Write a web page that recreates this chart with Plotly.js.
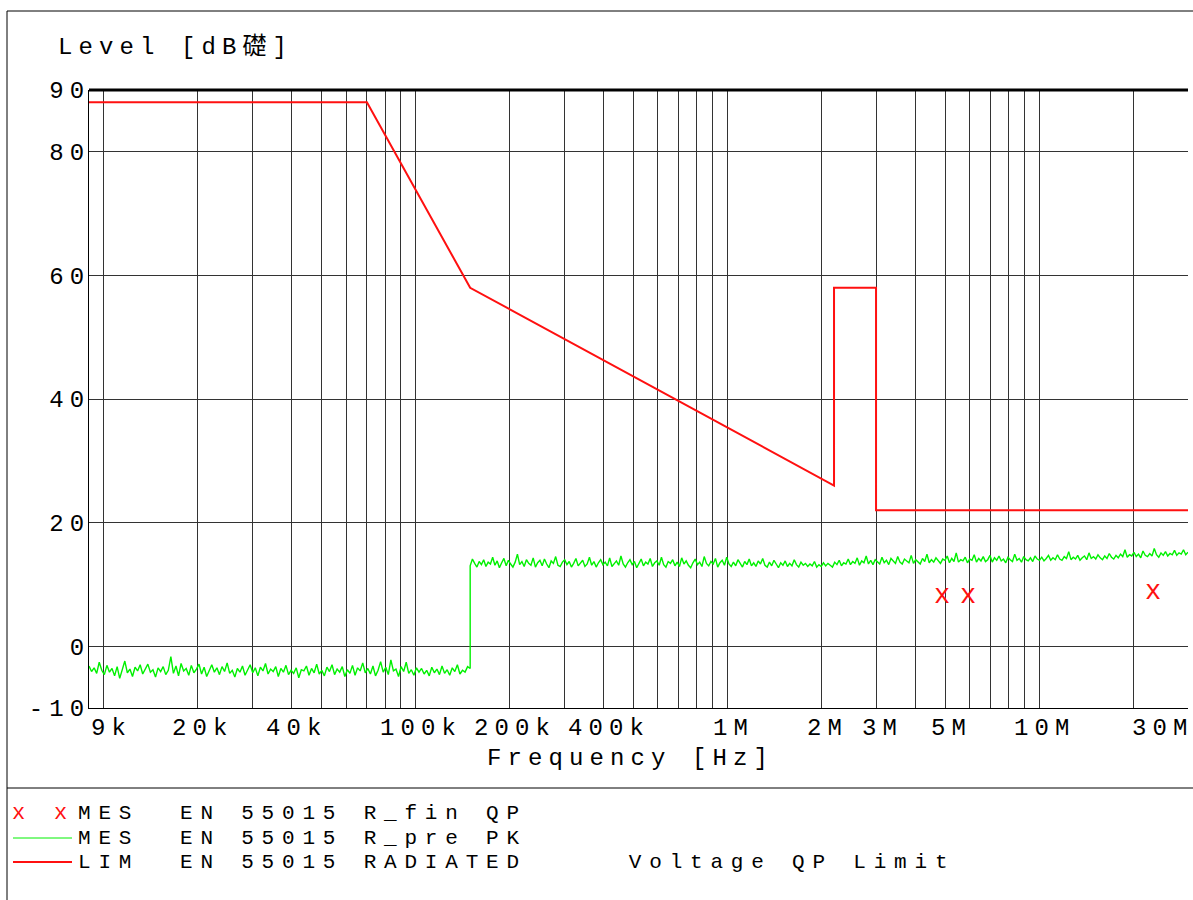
<!DOCTYPE html>
<html>
<head>
<meta charset="utf-8">
<script src="https://cdn.plot.ly/plotly-3.0.1.min.js"></script>
<style>
  html, body { margin: 0; padding: 0; background: #fff; }
  #chart { width: 1193px; height: 900px; }
  text { letter-spacing: 6.1px; }
</style>
</head>
<body>
<div id="chart"></div>
<script>
// ---------- data ----------
// Limit line: EN 55015 radiated (QP)
const limitFreqs  = [9e3, 70e3, 150e3, 2.2e6, 2.2e6, 3e6, 3e6, 30e6];
const limitLevels = [88, 88, 58, 26, 58, 58, 22, 22];

// Final QP measurement points
const finalFreqs  = [5.0e6, 6.05e6, 23.7e6];
const finalLevels = [8.1, 8.1, 8.7];

// Preview PK scan, band A (9 kHz - 150 kHz)
const bandAStart = 9e3, bandAStop = 150e3;
const bandALevels = [
 -3.2,-4.1,-3.5,-4.4,-2.6,-3.9,-4.6,-3.1,-4.2,-3.6,
 -4.8,-3.3,-5.2,-3.9,-2.4,-4.3,-3.7,-4.9,-3.4,-4.0,
 -3.0,-4.5,-3.6,-2.9,-4.2,-3.8,-5.0,-3.5,-4.1,-3.3,
 -4.6,-3.9,-1.7,-4.4,-3.2,-4.8,-2.8,-4.0,-3.6,-4.7,
 -3.1,-4.3,-3.7,-2.9,-4.5,-3.4,-4.9,-3.8,-3.0,-4.2,
 -3.5,-4.6,-3.3,-4.1,-2.7,-4.4,-3.9,-5.0,-3.6,-4.2,
 -3.2,-4.7,-3.8,-3.0,-4.3,-3.5,-4.8,-3.4,-4.0,-2.8,
 -4.5,-3.7,-4.1,-3.3,-4.9,-3.6,-4.2,-3.1,-4.6,-3.9,
 -4.4,-3.5,-5.1,-3.8,-4.0,-3.2,-4.7,-3.6,-4.3,-2.9,
 -4.5,-3.9,-4.8,-3.4,-4.1,-3.0,-4.6,-3.7,-4.2,-3.3,
 -4.9,-3.8,-4.4,-3.1,-4.7,-3.5,-4.0,-2.7,-4.3,-3.6,
 -4.5,-3.2,-4.8,-3.9,-2.5,-4.2,-3.4,-4.6,-2.2,-4.0,
 -3.7,-4.9,-3.3,-4.1,-2.6,-4.4,-3.8,-4.7,-3.5,-4.2,
 -3.6,-4.5,-3.9,-4.8,-3.4,-4.3,-3.7,-4.6,-3.2,-4.4,
 -3.8,-4.7,-3.5,-4.1,-3.0,-4.5,-3.9,-4.2,-3.3,-3.6
];

// Preview PK scan, band B (150 kHz - 30 MHz)
const bandBStart = 150e3, bandBStop = 30e6;
const bandBLevels = [
 13.0,14.1,13.4,12.8,13.7,13.2,14.0,12.9,13.6,13.3,
 14.4,13.1,13.8,12.7,13.5,14.2,13.0,13.9,13.3,12.8,
 13.6,14.9,13.2,13.7,12.9,14.0,13.4,13.1,14.3,12.8,
 13.5,13.9,13.0,14.1,13.3,12.7,13.8,13.4,14.5,13.1,
 12.9,13.6,14.0,13.2,13.7,12.8,13.4,14.2,13.0,13.5,
 13.9,12.9,13.3,14.4,13.1,13.7,12.8,13.5,14.0,13.2,
 13.6,13.0,14.3,12.9,13.4,13.8,13.1,14.6,13.3,12.8,
 13.5,14.0,13.2,13.7,12.7,13.4,14.1,13.0,13.6,13.3,
 14.2,12.9,13.5,13.8,13.1,14.4,13.2,12.8,13.7,13.4,
 14.0,13.0,13.6,12.9,14.3,13.3,13.8,13.1,12.7,13.5,
 14.1,13.2,13.6,12.9,14.5,13.4,13.0,13.7,13.3,14.2,
 12.8,13.5,13.9,13.1,14.4,13.3,12.9,13.6,13.0,14.0,
 13.4,12.8,13.7,13.2,14.1,13.0,13.5,12.9,13.8,13.3,
 14.2,13.1,12.8,13.6,13.0,13.9,13.3,12.7,13.5,13.1,
 13.8,12.9,13.4,13.0,14.0,13.2,12.8,13.6,13.1,13.4,
 12.9,13.3,13.0,13.7,12.8,13.2,12.9,13.5,13.0,13.4,
 13.1,12.8,13.6,13.2,13.9,13.0,13.5,13.3,14.1,13.2,
 13.7,13.4,14.3,13.1,13.8,13.5,14.6,13.3,13.9,13.2,
 14.0,13.6,13.3,14.4,13.5,13.9,13.2,14.2,13.7,13.4,
 14.5,13.6,13.3,14.1,13.8,13.5,14.7,13.4,14.0,13.6,
 13.3,14.2,13.7,14.9,13.5,14.0,13.6,14.3,13.8,13.4,
 14.1,13.9,14.6,13.5,14.2,13.7,15.1,13.6,14.0,13.8,
 14.4,13.5,14.1,13.9,14.8,13.6,14.2,13.8,14.5,13.7,
 14.0,14.7,13.6,14.3,13.9,14.6,13.8,14.1,13.5,14.4,
 14.0,13.7,14.9,13.9,14.2,13.6,14.5,14.0,13.8,14.3,
 13.7,14.6,14.1,13.9,14.4,13.8,14.2,14.7,13.9,14.3,
 14.0,14.8,14.1,13.9,14.5,14.2,15.3,14.0,14.4,14.1,
 14.7,13.9,14.3,14.6,14.0,15.1,14.2,14.5,14.1,14.8,
 14.3,14.0,14.6,14.2,15.0,14.4,14.1,14.7,14.3,14.9,
 14.5,15.6,14.4,14.8,14.6,15.2,14.5,14.9,14.3,15.4,
 14.7,14.5,15.0,14.6,15.8,14.8,14.4,15.1,14.7,15.3,
 14.6,15.0,14.8,15.5,14.7,15.1,14.9,15.6,14.8,15.2
];

// Axis
const gridFreqs = [1e4,2e4,3e4,4e4,5e4,6e4,7e4,8e4,9e4,
                   1e5,2e5,3e5,4e5,5e5,6e5,7e5,8e5,9e5,
                   1e6,2e6,3e6,4e6,5e6,6e6,7e6,8e6,9e6,
                   1e7,2e7,3e7];
const xLabelFreqs = [9e3, 2e4, 4e4, 1e5, 2e5, 4e5, 1e6, 2e6, 3e6, 5e6, 1e7, 3e7];
const xLabelTexts = ['9k','20k','40k','100k','200k','400k','1M','2M','3M','5M','10M','30M'];
const yTickVals = [-10, 0, 20, 40, 60, 80, 90];
const yTickText = ['-10', '0', '20', '40', '60', '80', '90'];

const legendRows = [
  {label: 'MES  EN 55015 R_fin QP', kind: 'x'},
  {label: 'MES  EN 55015 R_pre PK', kind: 'green'},
  {label: 'LIM  EN 55015 RADIATED     Voltage QP Limit', kind: 'red'}
];

// ---------- build ----------
// Sweep frequency grid of the receiver (log stepping per band)
function sweep(start, stop, n) {
  const out = [];
  const a = Math.log10(start), b = Math.log10(stop);
  for (let i = 0; i < n; i++) out.push(Math.pow(10, a + (b - a) * i / (n - 1)));
  return out;
}
const pkFreqs = sweep(bandAStart, bandAStop, bandALevels.length)
  .concat(sweep(bandBStart, bandBStop, bandBLevels.length));
const pkLevels = bandALevels.concat(bandBLevels);

const FONT = '"Liberation Mono", "Courier New", "Noto Sans CJK SC", monospace';
const FS = 24, LEG_FS = 21;
const RED = '#ff1010', GREEN = '#00f000';

// pixel helpers -> paper coords (plot area: x 89..1188, y 90..708)
const L = 89, R = 5, T = 90, B = 192, W = 1193, H = 900;
const pw = W - L - R, ph = H - T - B;
const px = x => (x - L) / pw;
const py = y => (H - B - y) / ph;

const traces = [
  {x: pkFreqs, y: pkLevels, type: 'scatter', mode: 'lines',
   line: {color: GREEN, width: 1.4}, hoverinfo: 'skip'},
  {x: limitFreqs, y: limitLevels, type: 'scatter', mode: 'lines',
   line: {color: RED, width: 2}, hoverinfo: 'skip'},
  {x: finalFreqs, y: finalLevels, type: 'scatter', mode: 'text',
   text: finalFreqs.map(() => 'x'), textposition: 'middle center',
   textfont: {family: FONT, size: 27, color: RED}, hoverinfo: 'skip'}
];

const annotations = [];
xLabelFreqs.forEach((f, i) => {
  let anchor = 'center', shift = 6;
  if (i === 0) { anchor = 'left'; shift = 0; }
  if (i === xLabelFreqs.length - 1) { anchor = 'right'; shift = 8; }
  annotations.push({x: Math.log10(f), y: py(728), xref: 'x', yref: 'paper',
    text: xLabelTexts[i], showarrow: false, xanchor: anchor, yanchor: 'middle',
    xshift: shift, font: {family: FONT, size: FS, color: '#000'}});
});
annotations.push({x: px(630), y: py(758), xref: 'paper', yref: 'paper',
  text: 'Frequency [Hz]', showarrow: false, xanchor: 'center', yanchor: 'middle',
  font: {family: FONT, size: FS, color: '#000'}});
annotations.push({x: px(56), y: py(47), xref: 'paper', yref: 'paper',
  text: 'Level [dB礎]', showarrow: false, xanchor: 'left', yanchor: 'middle',
  font: {family: FONT, size: FS, color: '#000'}});

const rowY = [813, 838, 862];
const shapes = [];
const spaced = s => '<span style="letter-spacing:7.8px">' + s.replace(/ /g, '\u00a0') + '</span>';
legendRows.forEach((r, i) => {
  annotations.push({x: px(77), y: py(rowY[i]), xref: 'paper', yref: 'paper',
    text: spaced(r.label), showarrow: false, xanchor: 'left', yanchor: 'middle',
    borderpad: 0,
    font: {family: FONT, size: LEG_FS, color: '#000'}});
  if (r.kind === 'x') {
    annotations.push({x: px(11), y: py(rowY[i]), xref: 'paper', yref: 'paper',
      text: spaced('x x'), showarrow: false, xanchor: 'left', yanchor: 'middle',
      borderpad: 0,
      font: {family: FONT, size: LEG_FS + 1, color: RED}});
  } else {
    shapes.push({type: 'line', xref: 'paper', yref: 'paper',
      x0: px(13), x1: px(72), y0: py(rowY[i]), y1: py(rowY[i]),
      line: {color: r.kind === 'green' ? GREEN : RED, width: r.kind === 'green' ? 1 : 2}});
  }
});

// frame
shapes.push({type: 'line', xref: 'paper', yref: 'paper', x0: px(7), x1: px(7), y0: py(11), y1: py(900), line: {color: '#000', width: 1}});
shapes.push({type: 'line', xref: 'paper', yref: 'paper', x0: px(7), x1: px(1193), y0: py(11), y1: py(11), line: {color: '#000', width: 1}});
shapes.push({type: 'line', xref: 'paper', yref: 'paper', x0: px(7), x1: px(1193), y0: py(788), y1: py(788), line: {color: '#000', width: 1}});
// thick top edge of plot
shapes.push({type: 'line', xref: 'paper', yref: 'paper', x0: 0, x1: 1, y0: 1, y1: 1, line: {color: '#000', width: 3}});

const layout = {
  width: W, height: H,
  margin: {l: L, r: R, t: T, b: B},
  paper_bgcolor: '#fff', plot_bgcolor: '#fff',
  showlegend: false,
  font: {family: FONT, size: FS, color: '#000'},
  xaxis: {
    type: 'log',
    range: [Math.log10(bandAStart), Math.log10(bandBStop)],
    tickvals: gridFreqs, showticklabels: false, ticks: '',
    showgrid: true, gridcolor: '#333', gridwidth: 1,
    showline: true, linecolor: '#000', linewidth: 1, mirror: false,
    zeroline: false, fixedrange: true
  },
  yaxis: {
    range: [-10, 90],
    tickvals: yTickVals, ticktext: yTickText, ticks: '',
    ticklabelstandoff: -7,
    tickfont: {family: FONT, size: FS, color: '#000'},
    showgrid: true, gridcolor: '#333', gridwidth: 1,
    showline: true, linecolor: '#000', linewidth: 1,
    zeroline: false, fixedrange: true
  },
  annotations: annotations,
  shapes: shapes
};

Plotly.newPlot('chart', traces, layout, {staticPlot: true, displayModeBar: false});
</script>
</body>
</html>
